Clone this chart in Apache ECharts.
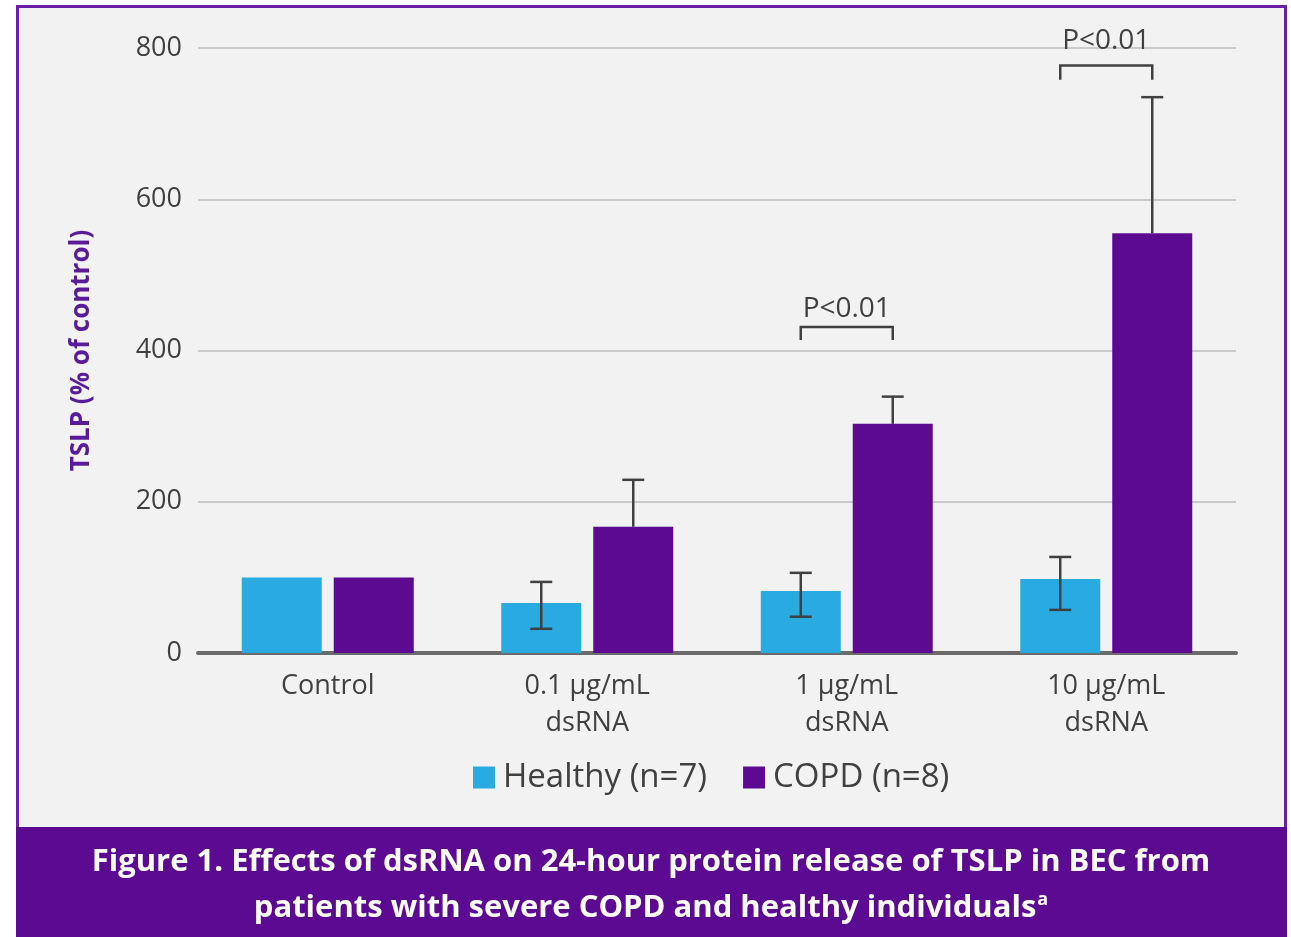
<!DOCTYPE html>
<html>
<head>
<meta charset="utf-8">
<script src="https://cdn.jsdelivr.net/npm/echarts@6/dist/echarts.min.js"></script>
<style>
  html, body { margin: 0; padding: 0; background: #ffffff; }
  #chart { width: 1291px; height: 937px; }
</style>
</head>
<body>
<div id="chart"></div>
<script>
// data
var categories = ["Control", "0.1 µg/mL\ndsRNA", "1 µg/mL\ndsRNA", "10 µg/mL\ndsRNA"];
var healthy = [100, 66, 82, 98];
var copd = [100, 167, 303, 555];
var healthyErrLow = [null, 32, 48, 57];
var healthyErrHigh = [null, 94, 106, 127];
var copdErrHigh = [null, 229, 339, 735];
// significance brackets: [category, leg bottom, bracket top]
var brackets = [[2, 414, 431], [3, 758, 777]];
var bracketLabels = ["P<0.01", "P<0.01"];

var FONT = "Open Sans";
var TEXT = "#404040";
var BLUE = "#29abe2";
var PURPLE = "#5b0a91";
var BAR_W = 80;
var HALF = 46; // distance from category centre to each bar centre

var chartDom = document.getElementById("chart");
var myChart = echarts.init(chartDom);

// error bar data, skipping categories without bars
function errData(lows, highs, means) {
  var out = [];
  for (var i = 0; i < highs.length; i++) {
    if (highs[i] == null) continue;
    out.push([i, lows ? lows[i] : means[i], highs[i]]);
  }
  return out;
}

function errRender(offset) {
  return function (params, api) {
    var c = api.value(0);
    var lo = api.coord([c, api.value(1)]);
    var hi = api.coord([c, api.value(2)]);
    var x = lo[0] + offset;
    var cap = 11;
    var style = { stroke: TEXT, lineWidth: 2.5 };
    return {
      type: "group",
      children: [
        { type: "line", shape: { x1: x, y1: lo[1], x2: x, y2: hi[1] }, style: style },
        { type: "line", shape: { x1: x - cap, y1: hi[1], x2: x + cap, y2: hi[1] }, style: style },
        { type: "line", shape: { x1: x - cap, y1: lo[1], x2: x + cap, y2: lo[1] }, style: style, invisible: offset > 0 },
      ],
    };
  };
}

var option = {
  backgroundColor: "#ffffff",
  animation: false,
  textStyle: { fontFamily: FONT },
  graphic: [
    {
      type: "rect",
      z: -100,
      shape: { x: 17.5, y: 6.5, width: 1268, height: 830 },
      style: { fill: "#f2f2f2", stroke: "#6a1fa8", lineWidth: 3 },
    },
    {
      type: "rect",
      z: -90,
      shape: { x: 16, y: 827, width: 1271, height: 110 },
      style: { fill: PURPLE },
    },
    {
      type: "text",
      x: 651,
      y: 862,
      style: {
        text: "Figure 1. Effects of dsRNA on 24-hour protein release of TSLP in BEC from",
        fill: "#ffffff",
        font: "bold 31px 'Open Sans'",
        align: "center",
        verticalAlign: "middle",
      },
    },
    {
      type: "text",
      x: 651,
      y: 908,
      style: {
        text: "{b|patients with severe COPD and healthy individuals}{s|a}",
        align: "center",
        verticalAlign: "middle",
        rich: {
          b: { fill: "#ffffff", fontFamily: FONT, fontWeight: "bold", fontSize: 31 },
          s: { fill: "#ffffff", fontFamily: FONT, fontWeight: "bold", fontSize: 18, verticalAlign: "top", padding: [0, 0, 16, 1] },
        },
      },
    },
  ],
  grid: {
    left: 198,
    right: 55,
    top: 48,
    bottom: 284,
  },
  legend: {
    left: 468,
    top: 756,
    itemWidth: 22,
    itemHeight: 22,
    itemGap: 36,
    icon: "rect",
    data: ["Healthy (n=7)", "COPD (n=8)"],
    textStyle: { fontFamily: FONT, fontSize: 33, color: TEXT, padding: [0, 0, 0, 3] },
  },
  xAxis: {
    type: "category",
    data: categories,
    axisLine: { lineStyle: { color: "#6b6b6b", width: 4 } },
    axisTick: { show: false },
    axisLabel: {
      fontFamily: FONT,
      fontSize: 27,
      color: TEXT,
      lineHeight: 37,
      margin: 15,
      interval: 0,
    },
  },
  yAxis: {
    type: "value",
    min: 0,
    max: 800,
    interval: 200,
    name: "TSLP (% of control)",
    nameLocation: "middle",
    nameGap: 103,
    nameTextStyle: { fontFamily: FONT, fontSize: 26, fontWeight: "bold", color: "#5b1a9a" },
    axisLine: { show: false },
    axisTick: { show: false },
    axisLabel: { fontFamily: FONT, fontSize: 27, color: TEXT, margin: 16 },
    splitLine: { lineStyle: { color: "#bdbdbd", width: 1.5 } },
  },
  series: [
    {
      name: "Healthy (n=7)",
      type: "bar",
      data: healthy,
      barWidth: BAR_W,
      barGap: "15%",
      itemStyle: { color: BLUE },
    },
    {
      name: "COPD (n=8)",
      type: "bar",
      data: copd,
      barWidth: BAR_W,
      itemStyle: { color: PURPLE },
    },
    {
      name: "healthyErr",
      type: "custom",
      z: 5,
      clip: false,
      renderItem: errRender(-HALF),
      data: errData(healthyErrLow, healthyErrHigh),
    },
    {
      name: "copdErr",
      type: "custom",
      z: 1,
      clip: false,
      renderItem: errRender(HALF),
      data: errData(null, copdErrHigh, copd),
    },
    {
      name: "brackets",
      type: "custom",
      z: 5,
      clip: false,
      renderItem: function (params, api) {
        var c = api.value(0);
        var bot = api.coord([c, api.value(1)]);
        var top = api.coord([c, api.value(2)]);
        var x1 = bot[0] - HALF;
        var x2 = bot[0] + HALF;
        return {
          type: "group",
          children: [
            {
              type: "polyline",
              shape: { points: [[x1, bot[1]], [x1, top[1]], [x2, top[1]], [x2, bot[1]]] },
              style: { stroke: TEXT, lineWidth: 2.5, fill: null },
            },
            {
              type: "text",
              x: bot[0],
              y: top[1] - (params.dataIndex === 1 ? 10 : 4),
              style: {
                text: bracketLabels[params.dataIndex],
                fill: TEXT,
                font: "28px 'Open Sans'",
                align: "center",
                verticalAlign: "bottom",
              },
            },
          ],
        };
      },
      data: brackets,
    },
  ],
};

myChart.setOption(option);
</script>
</body>
</html>
